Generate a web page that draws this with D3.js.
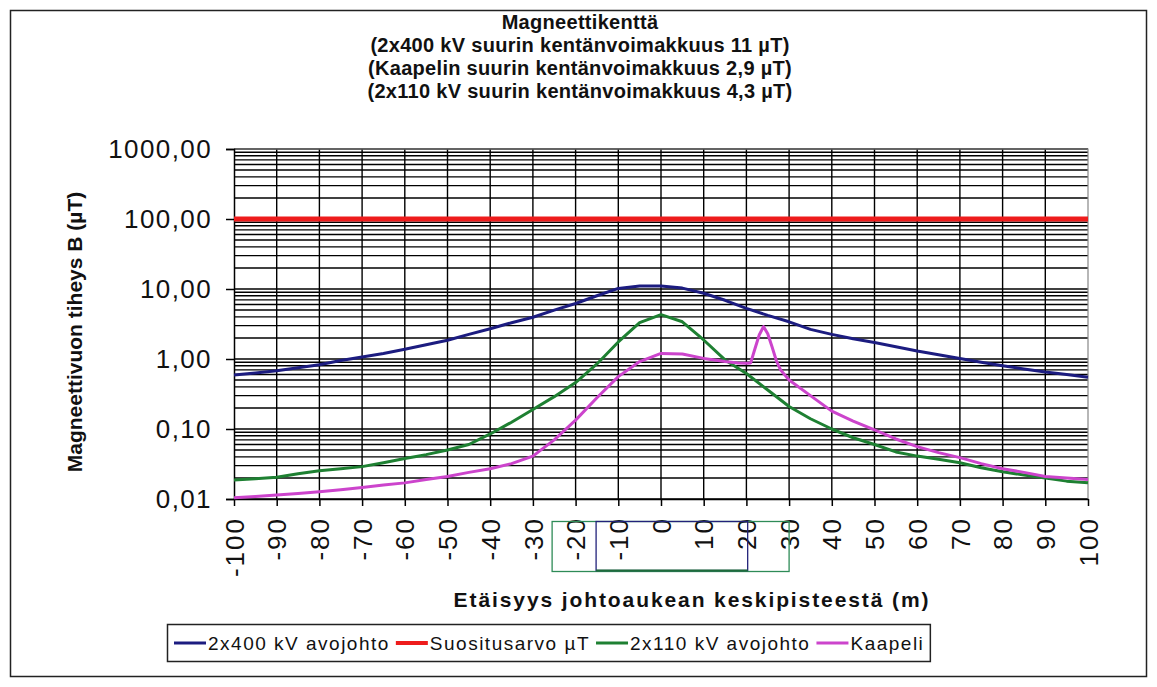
<!DOCTYPE html>
<html>
<head>
<meta charset="utf-8">
<script src="https://cdn.jsdelivr.net/npm/d3@7"></script>
<style>
  html, body { margin: 0; padding: 0; background: #ffffff; }
  svg { display: block; }
  text { font-family: "Liberation Sans", Arial, sans-serif; fill: #111; }
</style>
</head>
<body>
<svg id="chart" width="1157" height="687"></svg>
<script>
// Distance from the centre of the line corridor (m)
const distance = [-100,-95,-90,-85,-80,-75,-70,-65,-60,-55,-50,-45,-40,-35,-30,-25,-20,-15,-10,-5,
  0,5,10,15,20,25,30,35,40,45,50,55,60,65,70,75,80,85,90,95,100];

// 2x400 kV overhead line, flux density (µT)
const line400 = [0.59,0.63,0.68,0.75,0.83,0.95,1.07,1.2,1.38,1.6,1.85,2.25,2.7,3.3,3.95,5.0,6.2,8.0,10.2,11.0,
  11.0,10.3,8.7,6.9,5.3,4.2,3.4,2.65,2.25,1.95,1.72,1.5,1.3,1.15,1.02,0.9,0.8,0.72,0.65,0.6,0.55];

// 2x110 kV overhead line, flux density (µT)
const line110 = [0.0187,0.0195,0.0205,0.023,0.0253,0.027,0.029,0.033,0.038,0.043,0.05,0.06,0.085,0.125,0.19,0.29,0.46,0.85,1.75,3.3,
  4.3,3.4,1.87,0.97,0.62,0.36,0.21,0.14,0.1,0.075,0.06,0.047,0.041,0.037,0.033,0.028,0.0245,0.022,0.02,0.018,0.017];

// Cable: own distance points, denser around the cable itself
const cableDistance = [-100,-95,-90,-85,-80,-75,-70,-65,-60,-55,-50,-45,-40,-35,-30,-25,-20,-15,-10,-5,
  0,5,10,15,18,20,21,22,23,24,25,26,27,28,30,35,40,45,50,55,60,65,70,75,80,85,90,95,100];
const cable = [0.0104,0.0109,0.0114,0.012,0.0127,0.0136,0.0146,0.0158,0.017,0.019,0.021,0.024,0.027,0.032,0.041,0.07,0.134,0.28,0.56,0.92,
  1.2,1.18,1.02,0.92,0.88,0.87,0.88,1.4,2.2,2.9,2.3,1.5,0.95,0.7,0.5,0.3,0.18,0.13,0.097,0.072,0.056,0.046,0.039,0.032,0.027,0.024,0.021,0.02,0.019];

// Recommended limit value (µT)
const limitValue = 100;

// Axis ticks and labels
const xTicks = [-100,-90,-80,-70,-60,-50,-40,-30,-20,-10,0,10,20,30,40,50,60,70,80,90,100];
const yTicks = [0.01,0.1,1,10,100,1000];
const yTickLabels = ["0,01","0,10","1,00","10,00","100,00","1000,00"];

// Highlighted distance ranges under the axis
const zoneOuter = [-25.5, 30];
const zoneInner = [-15.2, 20.3];

const titleLines = [
  "Magneettikenttä",
  "(2x400 kV suurin kentänvoimakkuus 11 µT)",
  "(Kaapelin suurin kentänvoimakkuus 2,9 µT)",
  "(2x110 kV suurin kentänvoimakkuus 4,3 µT)"
];
const seriesNames = ["2x400 kV avojohto", "Suositusarvo µT", "2x110 kV avojohto", "Kaapeli"];
const seriesColors = ["#1c1c80", "#ee1c1c", "#1e8032", "#cc44cc"];

const svg = d3.select("#chart");
const plot = { left: 234, right: 1088, top: 149, bottom: 499 };

const x = d3.scaleLinear().domain([-100, 100]).range([plot.left, plot.right]);
const y = d3.scaleLog().domain([0.01, 1000]).range([plot.bottom, plot.top]);

// Outer frame
svg.append("rect").attr("x", 10.5).attr("y", 10.5).attr("width", 1136).attr("height", 666)
  .attr("fill", "#fff").attr("stroke", "#222").attr("stroke-width", 1.5);

// Title
svg.append("g").selectAll("text").data(titleLines).join("text")
  .attr("x", 580).attr("y", (d, i) => 29 + i * 23)
  .attr("text-anchor", "middle").attr("font-size", 20).attr("font-weight", "bold")
  .attr("letter-spacing", 0.3)
  .text(d => d);

// Horizontal gridlines (log minor ticks)
const grid = svg.append("g").attr("stroke", "#000").attr("stroke-width", 1.4);
grid.selectAll("line.h").data(y.ticks()).join("line")
  .attr("x1", plot.left).attr("x2", plot.right)
  .attr("y1", d => y(d)).attr("y2", d => y(d));
// Vertical gridlines
grid.selectAll("line.v").data(xTicks.filter(d => d > -100 && d < 100)).join("line")
  .attr("y1", plot.top).attr("y2", plot.bottom)
  .attr("x1", d => x(d)).attr("x2", d => x(d));

// Plot border (right and top)
svg.append("path")
  .attr("d", `M${plot.left},${plot.top}H${plot.right}V${plot.bottom}`)
  .attr("fill", "none").attr("stroke", "#888").attr("stroke-width", 1.2);

// Y axis
const yAxis = svg.append("g").attr("transform", `translate(${plot.left},0)`)
  .call(d3.axisLeft(y).tickValues(yTicks).tickSize(8)
    .tickFormat((d, i) => yTickLabels[i]).tickPadding(14));
yAxis.select(".domain").attr("stroke", "#000").attr("stroke-width", 1.5);
yAxis.selectAll(".tick line").attr("stroke", "#000").attr("stroke-width", 1.5);
yAxis.selectAll(".tick text").attr("font-size", 26).attr("fill", "#333")
  .attr("letter-spacing", 1.4)
  .attr("font-family", "Liberation Sans, Arial, sans-serif");

// X axis
const xAxis = svg.append("g").attr("transform", `translate(0,${plot.bottom})`)
  .call(d3.axisBottom(x).tickValues(xTicks).tickSize(7).tickSizeOuter(0)
    .tickFormat(d => String(d)));
xAxis.select(".domain").attr("stroke", "#000").attr("stroke-width", 1.5);
xAxis.selectAll(".tick line").attr("stroke", "#000").attr("stroke-width", 1.5);
xAxis.selectAll(".tick text")
  .attr("font-size", 26).attr("fill", "#333")
  .attr("letter-spacing", 2)
  .attr("font-family", "Liberation Sans, Arial, sans-serif")
  .attr("text-anchor", "end").attr("dy", "0.35em")
  .attr("transform", "translate(0,18) rotate(-90)")
  .attr("x", 0).attr("y", 0);

// Highlighted distance ranges
svg.append("rect")
  .attr("x", x(zoneOuter[0])).attr("width", x(zoneOuter[1]) - x(zoneOuter[0]))
  .attr("y", 521.5).attr("height", 50)
  .attr("fill", "none").attr("stroke", "#2e8b57").attr("stroke-width", 1.3);
svg.append("rect")
  .attr("x", x(zoneInner[0])).attr("width", x(zoneInner[1]) - x(zoneInner[0]))
  .attr("y", 521.5).attr("height", 49)
  .attr("fill", "none").attr("stroke", "#22227a").attr("stroke-width", 1.3);
svg.append("line")
  .attr("x1", x(zoneInner[0])).attr("x2", x(zoneInner[1]))
  .attr("y1", 570.5).attr("y2", 570.5)
  .attr("stroke", "#1e6b3a").attr("stroke-width", 2);

// Axis titles
svg.append("text").attr("transform", "translate(82,332) rotate(-90)")
  .attr("text-anchor", "middle").attr("font-size", 21).attr("font-weight", "bold")
  .text("Magneettivuon tiheys B (µT)");
svg.append("text").attr("x", 692).attr("y", 607)
  .attr("text-anchor", "middle").attr("font-size", 21).attr("font-weight", "bold")
  .attr("letter-spacing", 1.9)
  .text("Etäisyys johtoaukean keskipisteestä (m)");

// Series
const lineGen = d3.line().x(d => x(d[0])).y(d => y(d[1]));
const seriesData = [
  distance.map((d, i) => [d, line400[i]]),
  [[-100, limitValue], [100, limitValue]],
  distance.map((d, i) => [d, line110[i]]),
  cableDistance.map((d, i) => [d, cable[i]])
];
const widths = [3, 5, 3, 3];
svg.append("g").selectAll("path").data(seriesData).join("path")
  .attr("d", lineGen)
  .attr("fill", "none")
  .attr("stroke", (d, i) => seriesColors[i])
  .attr("stroke-width", (d, i) => widths[i])
  .attr("stroke-linejoin", "round");

// Legend
const legend = svg.append("g");
const legendBox = legend.append("rect").attr("x", 167.5).attr("y", 624.5).attr("height", 37)
  .attr("fill", "#fff").attr("stroke", "#222").attr("stroke-width", 1.5);
let lx = 174;
seriesNames.forEach((name, i) => {
  legend.append("line").attr("x1", lx).attr("x2", lx + 32).attr("y1", 643).attr("y2", 643)
    .attr("stroke", seriesColors[i]).attr("stroke-width", widths[i] === 5 ? 4 : 3);
  const t = legend.append("text").attr("x", lx + 34).attr("y", 650)
    .attr("font-size", 19).attr("letter-spacing", 1.5).text(name);
  lx += 34 + t.node().getComputedTextLength() + 6;
});
legendBox.attr("width", lx - 167.5);
</script>
</body>
</html>
